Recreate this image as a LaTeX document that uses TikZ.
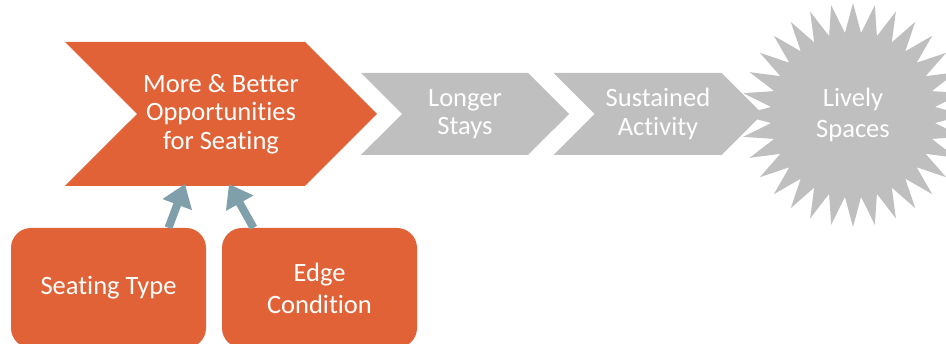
\documentclass[tikz,border=0pt]{standalone}
\usepackage{fontspec}
\setmainfont[Ligatures=NoCommon]{Carlito}
\usetikzlibrary{shapes.symbols,shapes.geometric,arrows.meta,calc}
\definecolor{seatorange}{RGB}{224,98,54}
\definecolor{stepgray}{RGB}{191,191,191}
\definecolor{pushblue}{RGB}{127,160,170}
\tikzset{
    chevron/.style={signal, signal from=west, signal to=east,
        signal pointer angle=90, inner sep=0pt, text=white,
        align=center, font=\fontsize{26.5}{28.5}\selectfont},
    factor/.style={fill=seatorange, rounded corners=20pt, text=white,
        align=center, minimum width=195pt, minimum height=120pt,
        font=\fontsize{26.5}{32}\selectfont},
    push/.style={draw=pushblue, line width=8pt,
        -{Triangle[length=22pt,width=30pt]}, shorten >=0pt},
}

\begin{document}
\begin{tikzpicture}[x=1pt,y=-1pt]
    \useasboundingbox (0,0) rectangle (946,344);

    % the chain from seating to lively spaces
    \node[chevron, fill=seatorange, minimum width=312pt, minimum height=144pt]
        (seating) at (221,114) {More \& Better\\Opportunities\\for Seating};
    \node[chevron, fill=stepgray, minimum width=208pt, minimum height=82pt]
        (stays) at (465,114) {Longer\\Stays};
    \node[chevron, fill=stepgray, minimum width=209pt, minimum height=82pt]
        (activity) at (658,114) {Sustained\\Activity};
    \node[star, star points=32, star point ratio=1.36, fill=stepgray,
        minimum size=224pt, inner sep=0pt, text=white, align=center,
        font=\fontsize{26.5}{31}\selectfont]
        (lively) at (853,115) {Lively\\Spaces};

    % what feeds the seating
    \node[factor] (type) at (108.5,288) {Seating Type};
    \node[factor] (edge) at (319.5,288) {Edge\\Condition};

    \coordinate (typein) at (185,184);
    \coordinate (edgein) at (229,184);
    \draw[push] ($(type.north)+(60,0)$) -- (typein);
    \draw[push] ($(edge.north)+(-66,0)$) -- (edgein);
\end{tikzpicture}
\end{document}
